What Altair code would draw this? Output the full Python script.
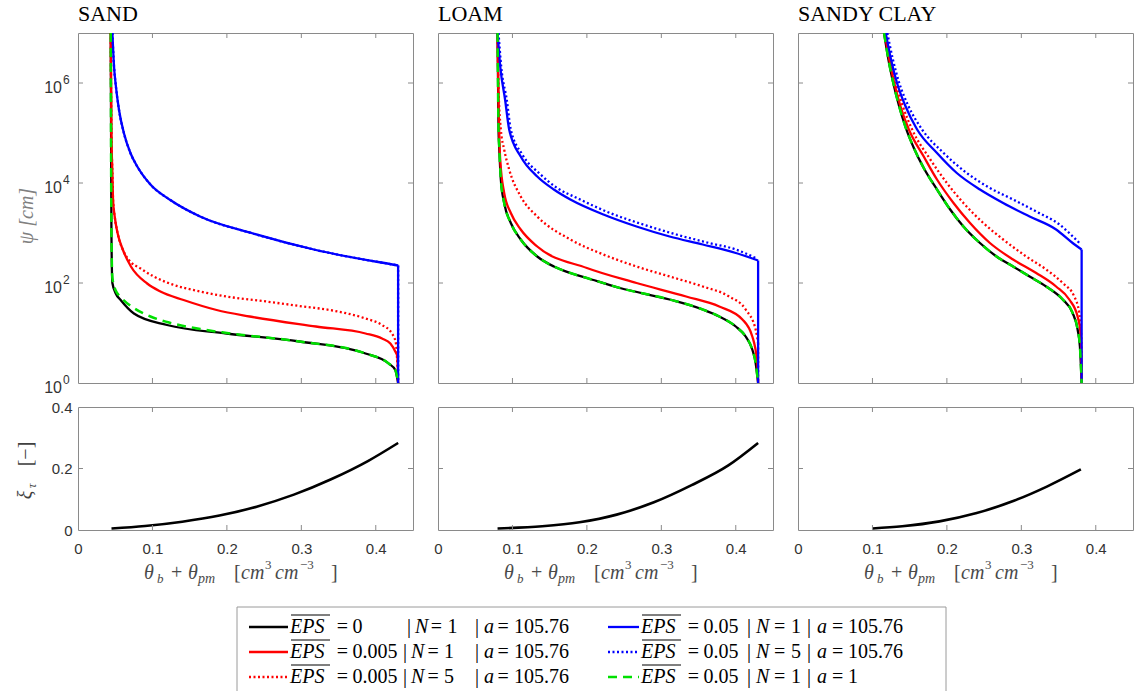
import altair as alt
import pandas as pd

# ------------------------------------------------------------------ data
SOILS = ["SAND", "LOAM", "SANDY CLAY"]
EPS_VALUES = ["0", "0.005", "0.005", "0.05", "0.05", "0.05"]
N_VALUES = ["1", "1", "5", "1", "5", "1"]
A_VALUES = ["105.76", "105.76", "105.76", "105.76", "105.76", "1"]
X_TICKS = [0, 0.1, 0.2, 0.3, 0.4]
PSI_TICKS = [1, 1e2, 1e4, 1e6]
XI_TICKS = [0, 0.2, 0.4]

# --- SAND (theta, log10 psi)
SAND_BLACK_THETA = [0.044, 0.0449, 0.0462, 0.0507, 0.0573, 0.0751, 0.1196, 0.1996, 0.2973, 0.3862, 0.4173, 0.4262, 0.430]
SAND_BLACK_LOGPSI = [7.0, 3.0, 2.0, 1.79, 1.66, 1.39, 1.16, 0.99, 0.83, 0.59, 0.39, 0.26, 0.0]
SAND_RED_THETA = [0.044, 0.0449, 0.0462, 0.0471, 0.0493, 0.0533, 0.0604, 0.0711, 0.0929, 0.1107, 0.1418, 0.1862, 0.2307, 0.3196, 0.3862, 0.4084, 0.4196, 0.4262, 0.429, 0.430]
SAND_RED_LOGPSI = [7.0, 5.0, 4.2, 3.66, 3.33, 2.99, 2.66, 2.33, 1.99, 1.83, 1.66, 1.46, 1.33, 1.13, 0.99, 0.89, 0.79, 0.63, 0.53, 0.0]
SAND_REDDOT_THETA = [0.044, 0.0449, 0.0462, 0.0471, 0.0493, 0.0533, 0.0604, 0.0684, 0.084, 0.1018, 0.1196, 0.164, 0.2084, 0.2529, 0.2973, 0.3418, 0.3862, 0.4084, 0.4218, 0.4271, 0.430]
SAND_REDDOT_LOGPSI = [7.0, 5.0, 4.2, 3.66, 3.33, 2.99, 2.66, 2.46, 2.29, 2.13, 2.01, 1.83, 1.71, 1.63, 1.54, 1.45, 1.29, 1.16, 0.99, 0.79, 0.0]
SAND_BLUE_THETA = [0.0462, 0.0484, 0.0507, 0.0551, 0.0618, 0.0707, 0.0796, 0.0973, 0.124, 0.164, 0.2351, 0.3196, 0.4262, 0.430, 0.430]
SAND_BLUE_LOGPSI = [7.0, 6.33, 5.96, 5.46, 4.99, 4.59, 4.33, 3.97, 3.66, 3.33, 2.99, 2.66, 2.36, 2.35, 0.0]
SAND_BLUEDOT_THETA = SAND_BLUE_THETA
SAND_BLUEDOT_LOGPSI = SAND_BLUE_LOGPSI
SAND_GREEN_THETA = [0.044, 0.0449, 0.0462, 0.0507, 0.0573, 0.0751, 0.0973, 0.1196, 0.164, 0.2, 0.2973, 0.3862, 0.4173, 0.4262, 0.430]
SAND_GREEN_LOGPSI = [7.0, 3.0, 2.1, 1.85, 1.72, 1.5, 1.33, 1.22, 1.08, 1.0, 0.83, 0.59, 0.39, 0.26, 0.0]

# --- LOAM
LOAM_BLACK_THETA = [0.080, 0.0813, 0.0822, 0.0844, 0.0889, 0.0978, 0.1111, 0.1333, 0.1556, 0.1778, 0.2000, 0.2444, 0.3111, 0.3556, 0.3778, 0.4000, 0.4133, 0.4222, 0.4267, 0.430]
LOAM_BLACK_LOGPSI = [7.0, 5.07, 4.73, 4.07, 3.6, 3.2, 2.87, 2.53, 2.33, 2.2, 2.1, 1.9, 1.67, 1.47, 1.33, 1.13, 0.93, 0.67, 0.4, 0.0]
LOAM_RED_THETA = [0.080, 0.0813, 0.0836, 0.0889, 0.0978, 0.1111, 0.1333, 0.2000, 0.2667, 0.3333, 0.3778, 0.4089, 0.4222, 0.4289, 0.430]
LOAM_RED_LOGPSI = [7.0, 5.66, 4.46, 3.8, 3.4, 3.07, 2.73, 2.3, 2.0, 1.73, 1.53, 1.27, 0.93, 0.4, 0.0]
LOAM_REDDOT_THETA = [0.080, 0.0813, 0.0844, 0.0889, 0.0956, 0.1111, 0.1333, 0.1778, 0.2222, 0.2667, 0.3111, 0.3556, 0.3911, 0.4133, 0.4267, 0.430, 0.430]
LOAM_REDDOT_LOGPSI = [7.0, 5.9, 5.07, 4.67, 4.27, 3.73, 3.33, 2.87, 2.57, 2.33, 2.13, 1.93, 1.73, 1.47, 1.07, 0.8, 0.0]
LOAM_BLUE_THETA = [0.080, 0.0836, 0.0902, 0.0956, 0.1111, 0.1333, 0.1556, 0.1778, 0.2222, 0.2667, 0.3111, 0.3556, 0.4000, 0.430, 0.430]
LOAM_BLUE_LOGPSI = [7.0, 6.33, 5.66, 5.07, 4.53, 4.13, 3.87, 3.67, 3.37, 3.13, 2.93, 2.77, 2.6, 2.45, 0.0]
LOAM_BLUEDOT_THETA = [0.0813, 0.0849, 0.0924, 0.0978, 0.1133, 0.1378, 0.1600, 0.1867, 0.2311, 0.2756, 0.3200, 0.3644, 0.4000, 0.4267]
LOAM_BLUEDOT_LOGPSI = [7.0, 6.33, 5.66, 5.07, 4.57, 4.17, 3.9, 3.7, 3.4, 3.17, 2.97, 2.8, 2.67, 2.5]
LOAM_GREEN_THETA = LOAM_BLACK_THETA
LOAM_GREEN_LOGPSI = LOAM_BLACK_LOGPSI

# --- SANDY CLAY
SC_BLACK_THETA = [0.1156, 0.1211, 0.1280, 0.1356, 0.1444, 0.1556, 0.1689, 0.1867, 0.2044, 0.2222, 0.2444, 0.2667, 0.2889, 0.3111, 0.3333, 0.3556, 0.3689, 0.3756, 0.3787, 0.381]
SC_BLACK_LOGPSI = [7.0, 6.5, 6.0, 5.55, 5.12, 4.7, 4.3, 3.87, 3.47, 3.13, 2.8, 2.53, 2.33, 2.13, 1.93, 1.67, 1.4, 1.07, 0.73, 0.0]
SC_RED_THETA = [0.1164, 0.1222, 0.1293, 0.1373, 0.1489, 0.1689, 0.1867, 0.2089, 0.2311, 0.2578, 0.2889, 0.3200, 0.3467, 0.3644, 0.3756, 0.3800, 0.381, 0.381]
SC_RED_LOGPSI = [7.0, 6.5, 6.0, 5.55, 5.07, 4.53, 4.07, 3.6, 3.2, 2.8, 2.47, 2.2, 1.93, 1.67, 1.33, 0.93, 0.4, 0.0]
SC_REDDOT_THETA = [0.1178, 0.1240, 0.1316, 0.1405, 0.1533, 0.1778, 0.2000, 0.2222, 0.2489, 0.2756, 0.3067, 0.3333, 0.3556, 0.3711, 0.3778, 0.3805, 0.381]
SC_REDDOT_LOGPSI = [7.0, 6.5, 6.0, 5.55, 5.07, 4.47, 4.0, 3.6, 3.2, 2.87, 2.53, 2.27, 2.0, 1.73, 1.4, 0.93, 0.0]
SC_BLUE_THETA = [0.1178, 0.1245, 0.1330, 0.1440, 0.1600, 0.1867, 0.2133, 0.2444, 0.2756, 0.3111, 0.3467, 0.3689, 0.381, 0.381]
SC_BLUE_LOGPSI = [7.0, 6.5, 6.0, 5.55, 5.07, 4.6, 4.2, 3.87, 3.6, 3.33, 3.07, 2.8, 2.67, 0.0]
SC_BLUEDOT_THETA = [0.1200, 0.1270, 0.1360, 0.1480, 0.1667, 0.1956, 0.2267, 0.2578, 0.2889, 0.3200, 0.3511, 0.3733, 0.3800]
SC_BLUEDOT_LOGPSI = [7.0, 6.5, 6.0, 5.55, 5.07, 4.6, 4.2, 3.9, 3.67, 3.43, 3.17, 2.87, 2.77]
SC_GREEN_THETA = SC_BLACK_THETA
SC_GREEN_LOGPSI = SC_BLACK_LOGPSI

# --- xi_tau (lower panels)
SAND_XI_THETA = [0.045, 0.09, 0.14, 0.19, 0.24, 0.29, 0.34, 0.39, 0.43]
SAND_XI = [0.005, 0.013, 0.027, 0.047, 0.076, 0.115, 0.165, 0.225, 0.283]
LOAM_XI_THETA = [0.08, 0.14, 0.19, 0.24, 0.29, 0.34, 0.39, 0.43]
LOAM_XI = [0.005, 0.012, 0.025, 0.05, 0.09, 0.145, 0.21, 0.283]
SC_XI_THETA = [0.10, 0.14, 0.19, 0.24, 0.29, 0.335, 0.38]
SC_XI = [0.005, 0.012, 0.028, 0.055, 0.095, 0.142, 0.197]

# ------------------------------------------------------------------ tables
CURVES = {
    "SAND": [(SAND_BLACK_THETA, SAND_BLACK_LOGPSI), (SAND_RED_THETA, SAND_RED_LOGPSI),
             (SAND_REDDOT_THETA, SAND_REDDOT_LOGPSI), (SAND_BLUE_THETA, SAND_BLUE_LOGPSI),
             (SAND_BLUEDOT_THETA, SAND_BLUEDOT_LOGPSI), (SAND_GREEN_THETA, SAND_GREEN_LOGPSI)],
    "LOAM": [(LOAM_BLACK_THETA, LOAM_BLACK_LOGPSI), (LOAM_RED_THETA, LOAM_RED_LOGPSI),
             (LOAM_REDDOT_THETA, LOAM_REDDOT_LOGPSI), (LOAM_BLUE_THETA, LOAM_BLUE_LOGPSI),
             (LOAM_BLUEDOT_THETA, LOAM_BLUEDOT_LOGPSI), (LOAM_GREEN_THETA, LOAM_GREEN_LOGPSI)],
    "SANDY CLAY": [(SC_BLACK_THETA, SC_BLACK_LOGPSI), (SC_RED_THETA, SC_RED_LOGPSI),
                   (SC_REDDOT_THETA, SC_REDDOT_LOGPSI), (SC_BLUE_THETA, SC_BLUE_LOGPSI),
                   (SC_BLUEDOT_THETA, SC_BLUEDOT_LOGPSI), (SC_GREEN_THETA, SC_GREEN_LOGPSI)],
}
XI_CURVES = {"SAND": (SAND_XI_THETA, SAND_XI), "LOAM": (LOAM_XI_THETA, LOAM_XI),
             "SANDY CLAY": (SC_XI_THETA, SC_XI)}

rows, drops = [], []
for soil, series_list in CURVES.items():
    for s, (th, lp) in enumerate(series_list):
        th, lp = list(th), list(lp)
        if len(th) > 2 and th[-1] == th[-2]:
            # final vertical drop at saturation drawn as its own segment
            drops.append({"soil": soil, "series": s, "theta": th[-1],
                          "psi_top": 10 ** lp[-2], "psi_bot": 10 ** lp[-1]})
            th, lp = th[:-1], lp[:-1]
        for i, (t, l) in enumerate(zip(th, lp)):
            rows.append({"soil": soil, "series": s, "idx": i, "theta": t, "psi": 10 ** l})
top_df = pd.DataFrame(rows)
drop_df = pd.DataFrame(drops)

xrows = []
for soil, (th, xi) in XI_CURVES.items():
    for i, (t, v) in enumerate(zip(th, xi)):
        xrows.append({"soil": soil, "idx": i, "theta": t, "xi": v})
xi_df = pd.DataFrame(xrows)
psi_lab_df = pd.DataFrame({"t": PSI_TICKS})

# ------------------------------------------------------------------ styles
LINE_COLORS = ["#000000", "#ff0000", "#ff0000", "#0000ff", "#0000ff", "#00e000"]
LINE_DASH = [None, None, [2, 2.5], None, [2, 2.5], [9, 6]]
LINE_WIDTH = [2.3, 2.3, 2.3, 2.3, 2.3, 2.5]
SANS = "Liberation Sans"
SERIF = "Liberation Serif"
FRAME = "#8a8a8a"
LABEL_COLOR = "#333333"
W, HT, HB = 335, 350, 123
TICK = 5
ONE = pd.DataFrame({"k": [0]})

X_SCALE = alt.Scale(domain=[0, 0.45], nice=False, zero=False)
PSI_SCALE = alt.Scale(type="log", domain=[1, 1e7], nice=False)
XI_SCALE = alt.Scale(domain=[0, 0.4], nice=False, zero=False)

NUM_EXPR = "datum.value == 0 ? '0' : format(datum.value, '.1f')"


def text(s, x, y, size, italic=False, color="#000000", angle=0, align="left", font=SERIF):
    kw = dict(text=s, fontSize=size, font=font, color=color, align=align, baseline="middle")
    if italic:
        kw["fontStyle"] = "italic"
    if angle:
        kw["angle"] = angle
    return alt.Chart(ONE).mark_text(**kw).encode(x=alt.value(x), y=alt.value(y))


def hrule(x1, x2, y, color="#000000", width=1.0, dash=None):
    kw = dict(color=color, strokeWidth=width)
    if dash:
        kw["strokeDash"] = dash
    return alt.Chart(ONE).mark_rule(**kw).encode(x=alt.value(x1), x2=alt.value(x2), y=alt.value(y))


def vrule(x, y1, y2, color="#000000", width=1.0):
    return alt.Chart(ONE).mark_rule(color=color, strokeWidth=width).encode(
        x=alt.value(x), y=alt.value(y1), y2=alt.value(y2))


def inner_ticks(h, yscale, yticks, xaxis, yaxis):
    xt = pd.DataFrame({"t": X_TICKS[1:]})
    yt = pd.DataFrame({"t": yticks})
    out = []
    for y1, y2 in [(0, TICK), (h, h - TICK)]:
        out.append(alt.Chart(xt).mark_rule(color=FRAME, strokeWidth=1).encode(
            x=alt.X("t:Q", scale=X_SCALE, axis=xaxis), y=alt.value(y1), y2=alt.value(y2)))
    for x1, x2 in [(0, TICK), (W, W - TICK)]:
        out.append(alt.Chart(yt).mark_rule(color=FRAME, strokeWidth=1).encode(
            y=alt.Y("t:Q", scale=yscale, axis=yaxis), x=alt.value(x1), x2=alt.value(x2)))
    return out


def xi_axis():
    return alt.Axis(values=XI_TICKS, labelExpr=NUM_EXPR, title=None, ticks=False,
                    domain=False, grid=False, labelFont=SANS, labelFontSize=15,
                    labelColor=LABEL_COLOR, labelPadding=6, labelFlush=False)


def x_axis():
    return alt.Axis(values=X_TICKS, labelExpr=NUM_EXPR, title=None, ticks=False,
                    domain=False, grid=False, labelFont=SANS, labelFontSize=15,
                    labelColor=LABEL_COLOR, labelPadding=11, labelFlush=False)


def top_panel(k, soil):
    base = alt.Chart(top_df).transform_filter(alt.datum.soil == soil)
    dbase = alt.Chart(drop_df).transform_filter(alt.datum.soil == soil)
    xenc = alt.X("theta:Q", scale=X_SCALE, axis=None)
    layers = []
    for s in range(6):
        kw = dict(color=LINE_COLORS[s], strokeWidth=LINE_WIDTH[s], clip=True,
                  interpolate="monotone")
        rkw = dict(color=LINE_COLORS[s], strokeWidth=LINE_WIDTH[s], clip=True)
        if LINE_DASH[s]:
            kw["strokeDash"] = LINE_DASH[s]
            rkw["strokeDash"] = LINE_DASH[s]
        layers.append(base.transform_filter(alt.datum.series == s).mark_line(**kw).encode(
            x=xenc, y=alt.Y("psi:Q", scale=PSI_SCALE, axis=None), order=alt.Order("idx:Q")))
        if ((drop_df["soil"] == soil) & (drop_df["series"] == s)).any():
            layers.append(dbase.transform_filter(alt.datum.series == s).mark_rule(**rkw).encode(
                x=xenc, y=alt.Y("psi_top:Q", scale=PSI_SCALE, axis=None), y2="psi_bot:Q"))
    layers += inner_ticks(HT, PSI_SCALE, PSI_TICKS[1:], None, None)
    if k == 0:
        labs = alt.Chart(psi_lab_df)
        layers.append(labs.mark_text(text="10", font=SANS, fontSize=16, color=LABEL_COLOR,
                                     align="right", baseline="middle", dy=5).encode(
            y=alt.Y("t:Q", scale=PSI_SCALE, axis=None), x=alt.value(-16)))
        layers.append(labs.transform_calculate(e="'' + round(log(datum.t) / LN10)").mark_text(
            font=SANS, fontSize=12, color=LABEL_COLOR, align="left", baseline="middle", dy=-3).encode(
            y=alt.Y("t:Q", scale=PSI_SCALE, axis=None), x=alt.value(-15), text="e:N"))
        layers.append(text("ψ  [cm]", -51, 183, 20, italic=True, color="#808080", angle=270,
                           align="center"))
    return alt.layer(*layers).properties(
        width=W, height=HT,
        title=alt.TitleParams(soil, anchor="start", frame="group", font=SERIF, fontSize=22,
                              fontWeight="normal", color="#000000", offset=7))


X_TITLE_PIECES = [
    ("θ", 66, 0, 20, True), ("b", 79, 6, 13, True), ("+", 93, 0, 20, False),
    ("θ", 110, 0, 20, True), ("pm", 120, 6, 14, True), ("[", 156, 0, 20, False),
    ("cm", 163, 0, 20, True), ("3", 187, -8, 13, False), ("cm", 197, 0, 20, True),
    ("−3", 222, -8, 13, False), ("]", 253, 0, 20, False),
]


def bottom_panel(k, soil):
    base = alt.Chart(xi_df).transform_filter(alt.datum.soil == soil)
    yaxis = xi_axis() if k == 0 else None
    xaxis = x_axis()
    layers = [base.mark_line(color="#000000", strokeWidth=2.6, interpolate="monotone", clip=True).encode(
        x=alt.X("theta:Q", scale=X_SCALE, axis=xaxis),
        y=alt.Y("xi:Q", scale=XI_SCALE, axis=yaxis),
        order=alt.Order("idx:Q"))]
    layers += inner_ticks(HB, XI_SCALE, XI_TICKS[1:2], xaxis, yaxis)
    ty = HB + 43
    for s, dx, dy, size, it in X_TITLE_PIECES:
        layers.append(text(s, dx, ty + dy, size, italic=it, color="#4a4a4a"))
    if k == 0:
        layers.append(text("ξ", -52, 88, 20, italic=True, color="#404040", angle=270, align="center"))
        layers.append(text("τ", -46, 79, 13, italic=True, color="#404040", angle=270, align="center"))
        layers.append(text("[−]", -52, 47, 20, italic=False, color="#404040", angle=270, align="center"))
    if k == 1:
        layers += legend_layers()
    return alt.layer(*layers).properties(width=W, height=HB)


# legend piece offsets from the start of "EPS":
# eq1, val1, bar1, N, eq2, val2, bar2, a, eq3, val3
LEG_OFFS = [
    [46.7, 62.4, 113, 121, 137.4, 154, 185, 194, 207.4, 224],
    [46.7, 62.4, 106, 115, 133, 150, 166, 176, 191, 207],
]
LEG_OFFS_FIRST = [46.7, 62.4, 117, 125, 140.7, 157.4, 185, 194, 207.4, 224]


def legend_layers():
    out = []
    left, right, top, bottom = -201, 508, 200, 284
    out.append(hrule(left, right, top, color="#9a9a9a", width=1))
    out.append(vrule(left, top, bottom, color="#9a9a9a", width=1))
    out.append(vrule(right, top, bottom, color="#9a9a9a", width=1))
    row_y = [220, 245, 270]
    col_base = [-148, 203]
    sample = [(-189, -150), (170, 201)]
    for s in range(6):
        c, r = s // 3, s % 3
        y = row_y[r]
        bx = col_base[c]
        o = LEG_OFFS_FIRST if (c == 0 and r == 0) else LEG_OFFS[c]
        out.append(hrule(sample[c][0], sample[c][1], y, color=LINE_COLORS[s],
                         width=LINE_WIDTH[s], dash=LINE_DASH[s]))
        out.append(text("EPS", bx, y, 20, italic=True))
        out.append(hrule(bx + 1, bx + 40, y - 12, color="#000000", width=1))
        pieces = [("=", False), (EPS_VALUES[s], False), ("|", False), ("N", True),
                  ("=", False), (N_VALUES[s], False), ("|", False), ("a", True),
                  ("=", False), (A_VALUES[s], False)]
        for (p, it), off in zip(pieces, o):
            out.append(text(p, bx + off, y, 20, italic=it))
    return out


panels = [top_panel(k, s) for k, s in enumerate(SOILS)] + [bottom_panel(k, s) for k, s in enumerate(SOILS)]

chart = alt.concat(*panels, columns=3, spacing={"row": 24, "column": 25}, bounds="flush").properties(
    padding={"left": 15, "top": 2, "right": 0, "bottom": 0}, background="white"
).configure_view(stroke=FRAME, strokeWidth=1)

chart.save("out.html", embed_options={"renderer": "svg", "actions": False})
